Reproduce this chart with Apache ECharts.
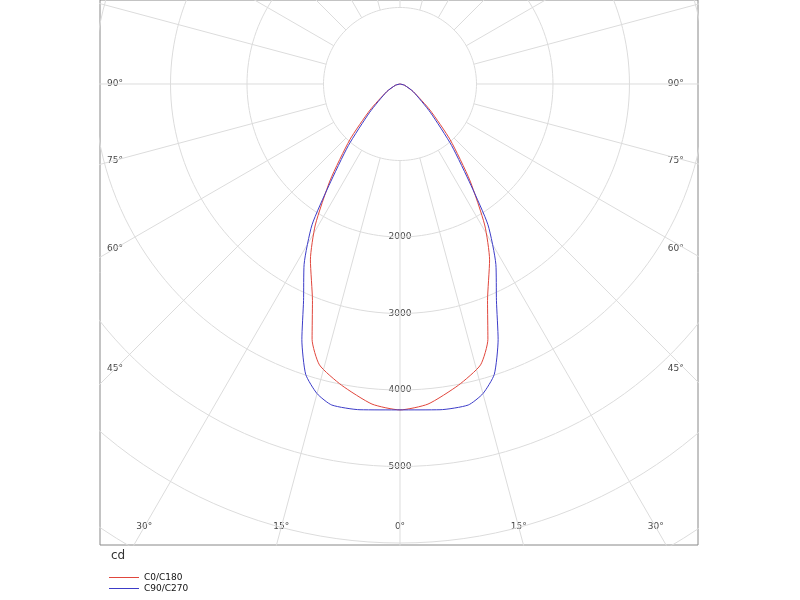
<!DOCTYPE html>
<html>
<head>
<meta charset="utf-8">
<script src="https://cdn.jsdelivr.net/npm/echarts@6/dist/echarts.min.js"></script>
<style>html,body{margin:0;background:#fff}#main{width:800px;height:600px}</style>
</head>
<body>
<div id="main"></div>
<script>
// gamma angle (deg from nadir) and intensity (cd)
var gammaC0 = [0, 5, 11, 16, 19, 22, 27, 31, 36, 42, 49, 60, 75, 90];
var cdC0 = [4260, 4200, 4010, 3820, 3530, 3055, 2580, 2150, 1550, 980, 520, 200, 60, 0];
var gammaC90 = [0, 7, 12, 15, 18, 21, 24, 28, 32, 35, 40, 47, 60, 75, 90];
var cdC90 = [4260, 4290, 4290, 4190, 3990, 3580, 3100, 2670, 2170, 1620, 1050, 540, 200, 60, 0];
var ringValues = [1000, 2000, 3000, 4000, 5000, 6000, 7000, 8000];
var ringLabels = ['2000', '3000', '4000', '5000'];
var angleLabels = ['90°', '75°', '60°', '45°'];
var bottomLabels = ['30°', '15°', '0°', '15°', '30°'];

var myChart = echarts.init(document.getElementById('main'));
var rad = Math.PI / 180;

function curve(gammas, vals) {
    var pts = [];
    for (var i = gammas.length - 1; i >= 0; i--) pts.push([-vals[i] * Math.sin(gammas[i] * rad), -vals[i] * Math.cos(gammas[i] * rad)]);
    for (i = 1; i < gammas.length; i++) pts.push([vals[i] * Math.sin(gammas[i] * rad), -vals[i] * Math.cos(gammas[i] * rad)]);
    return pts;
}

var gridStyle = { color: '#dcdcdc', width: 1 };
var series = [];
ringValues.forEach(function (r) {
    var pts = [];
    for (var a = 0; a <= 360; a += 2) pts.push([r * Math.sin(a * rad), r * Math.cos(a * rad)]);
    series.push({ type: 'line', data: pts, symbol: 'none', lineStyle: gridStyle, silent: true, animation: false });
});
for (var a = 0; a < 360; a += 15) {
    series.push({ type: 'line', symbol: 'none', lineStyle: gridStyle, silent: true, animation: false,
        data: [[1000 * Math.sin(a * rad), 1000 * Math.cos(a * rad)], [9000 * Math.sin(a * rad), 9000 * Math.cos(a * rad)]] });
}

var labelPts = [];
ringLabels.forEach(function (t) { labelPts.push({ value: [0, -Number(t)], name: t }); });
var sideX = 3725;
[90, 75, 60, 45].forEach(function (g, i) {
    var y = g === 90 ? 0 : -sideX / Math.tan(g * rad);
    labelPts.push({ value: [-sideX, y], name: angleLabels[i] });
    labelPts.push({ value: [sideX - 120, y], name: angleLabels[i] });
});
var botY = -5791;
[-30, -15, 0, 15, 30].forEach(function (g, i) {
    labelPts.push({ value: [-botY * Math.tan(g * rad), botY], name: bottomLabels[i] });
});
series.push({
    type: 'scatter', symbolSize: 0, silent: true, animation: false,
    data: labelPts,
    label: { show: true, position: 'inside', formatter: '{b}', color: '#111', fontSize: 9, fontFamily: 'DejaVu Sans' }
});

series.push({ name: 'C0/C180', type: 'line', data: curve(gammaC0, cdC0), symbol: 'none', smooth: 0.2,
    lineStyle: { color: '#e0463c', width: 1 }, itemStyle: { color: '#e0463c' }, animation: false });
series.push({ name: 'C90/C270', type: 'line', data: curve(gammaC90, cdC90), symbol: 'none', smooth: 0.2,
    lineStyle: { color: '#3c3cc8', width: 1 }, itemStyle: { color: '#3c3cc8' }, animation: false });

var option = {
    title: { text: 'cd', left: 106, top: 545, textStyle: { fontSize: 12, fontWeight: 'normal', color: '#333', fontFamily: 'DejaVu Sans' } },
    legend: {
        data: ['C0/C180', 'C90/C270'], orient: 'vertical', left: 104, top: 568, itemGap: 2,
        itemWidth: 30, itemHeight: 8, icon: 'path://M0,4 L30,4 L30,5 L0,5 Z',
        textStyle: { fontSize: 9, color: '#111', fontFamily: 'DejaVu Sans' }
    },
    grid: { left: 100, top: 0, width: 598, height: 545, show: true, borderColor: '#888', borderWidth: 1 },
    xAxis: { type: 'value', min: -3922, max: 3896, show: false },
    yAxis: { type: 'value', min: -6026, max: 1098, show: false },
    series: series
};
myChart.setOption(option);
</script>
</body>
</html>
